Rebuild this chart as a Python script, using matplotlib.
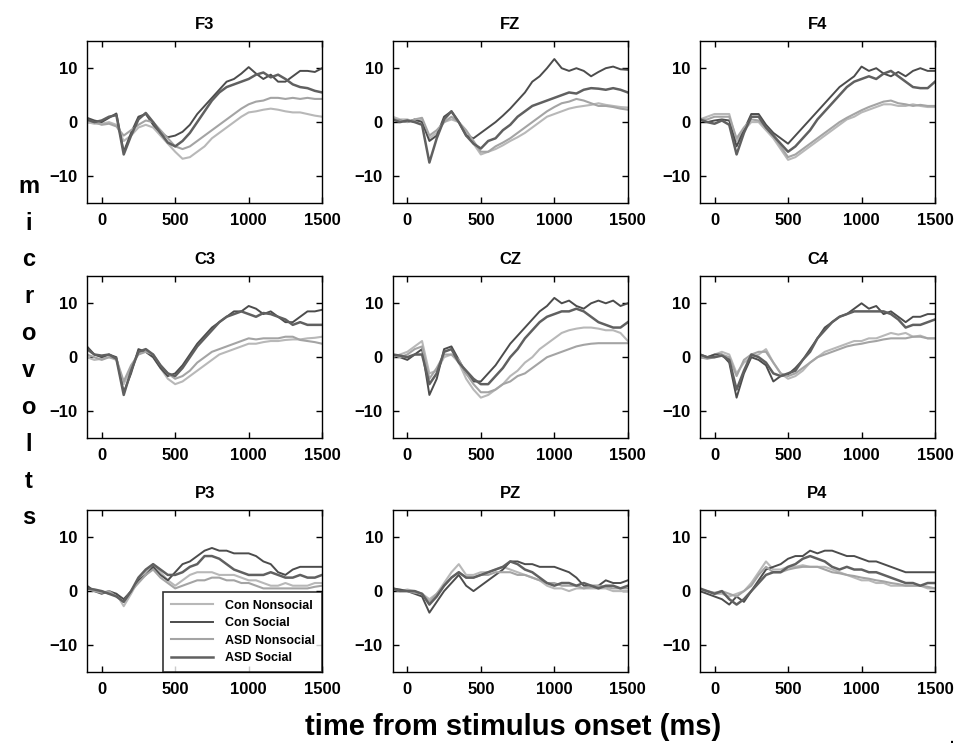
import matplotlib
matplotlib.use("Agg")
import matplotlib.pyplot as plt

plt.rcParams['font.family'] = ['Liberation Sans', 'DejaVu Sans']
plt.rcParams['font.weight'] = 'bold'

# time axis (ms)
t = [-100, -50, 0, 50, 100, 150, 200, 250, 300, 350, 400, 450, 500, 550, 600, 650,
     700, 750, 800, 850, 900, 950, 1000, 1050, 1100, 1150, 1200, 1250, 1300, 1350,
     1400, 1450, 1500]

electrodes = ['F3', 'FZ', 'F4', 'C3', 'CZ', 'C4', 'P3', 'PZ', 'P4']
conditions = ['Con Nonsocial', 'Con Social', 'ASD Nonsocial', 'ASD Social']

# F3
f3_con_ns = [0.0, -0.3, -0.3, 0.0, -0.5, -3.5, -2.5, -1.0, -0.5, -1.0, -2.5, -4.0, -5.5, -6.8, -6.5, -5.5, -4.5, -3.0, -2.0, -1.0, 0.0, 1.0, 1.8, 2.0, 2.3, 2.5, 2.3, 2.0, 1.8, 1.8, 1.5, 1.2, 1.0]
f3_con_s = [0.8, 0.3, 0.0, 0.8, 1.6, -5.5, -2.0, 1.0, 1.5, -0.5, -2.0, -2.8, -2.5, -1.8, -0.5, 1.5, 3.0, 4.5, 6.0, 7.5, 8.0, 9.0, 10.2, 9.0, 8.0, 8.8, 7.5, 7.5, 8.5, 9.5, 9.5, 9.3, 10.0]
f3_asd_ns = [0.3, 0.0, -0.5, -0.3, -0.8, -2.5, -1.5, -0.5, 0.3, 0.0, -1.5, -3.0, -4.5, -5.0, -4.5, -3.5, -2.5, -1.5, -0.5, 0.5, 1.5, 2.5, 3.3, 3.8, 4.0, 4.5, 4.5, 4.3, 4.5, 4.3, 4.5, 4.3, 4.3]
f3_asd_s = [0.5, 0.0, 0.3, 1.0, 1.3, -6.0, -2.5, 0.5, 1.7, 0.0, -2.0, -3.8, -4.5, -3.5, -2.0, 0.0, 2.0, 4.0, 5.5, 6.5, 7.0, 7.5, 8.0, 8.8, 9.2, 8.3, 8.8, 8.0, 7.0, 6.5, 6.3, 5.8, 5.5]

# FZ
fz_con_ns = [1.0, 0.5, 0.5, 0.0, 0.5, -3.0, -2.0, 0.0, 0.5, 0.0, -2.0, -4.0, -6.0, -5.5, -5.0, -4.3, -3.5, -2.8, -2.0, -1.0, 0.0, 1.0, 1.5, 2.0, 2.5, 2.8, 3.0, 3.2, 3.5, 3.2, 3.0, 2.8, 2.7]
fz_con_s = [0.5, 0.3, 0.0, 0.5, 0.0, -3.5, -2.5, 1.0, 2.0, 0.0, -2.5, -3.0, -2.0, -1.0, 0.0, 1.2, 2.5, 4.0, 5.5, 7.5, 8.5, 10.0, 11.7, 10.0, 9.5, 10.0, 9.5, 8.5, 9.3, 10.0, 10.3, 9.8, 9.7]
fz_asd_ns = [0.5, 0.3, 0.0, 0.5, 0.8, -2.5, -1.5, 0.0, 1.0, 0.0, -1.5, -3.5, -5.5, -5.5, -4.5, -3.8, -3.0, -2.0, -1.0, 0.0, 1.0, 2.0, 2.8, 3.5, 3.8, 4.3, 4.0, 3.5, 3.0, 3.0, 2.8, 2.5, 2.3]
fz_asd_s = [0.5, 0.0, 0.3, 0.0, -0.5, -7.5, -3.0, 0.5, 2.0, 0.0, -2.5, -4.0, -4.9, -3.5, -3.0, -1.5, -0.5, 1.0, 2.0, 3.0, 3.5, 4.0, 4.5, 5.0, 5.5, 5.3, 6.0, 6.3, 6.2, 6.0, 6.3, 6.0, 5.5]

# F4
f4_con_ns = [0.5, 1.0, 1.5, 1.5, 1.5, -3.5, -1.5, 0.0, 0.0, -1.5, -3.0, -5.0, -7.0, -6.5, -5.5, -4.5, -3.5, -2.5, -1.5, -0.5, 0.5, 1.0, 1.8, 2.3, 2.8, 3.3, 3.3, 3.0, 3.0, 3.3, 3.0, 2.8, 2.8]
f4_con_s = [0.5, 0.0, 0.3, 0.5, 0.3, -4.5, -1.5, 1.5, 1.5, -0.5, -2.0, -3.0, -4.0, -2.5, -1.0, 0.5, 2.0, 3.5, 5.0, 6.5, 7.5, 8.5, 10.3, 9.5, 10.0, 9.0, 8.5, 9.3, 8.5, 9.5, 10.0, 9.5, 9.5]
f4_asd_ns = [0.5, 0.5, 1.0, 1.0, 1.0, -3.0, -1.0, 0.5, 0.3, -1.0, -2.5, -4.5, -6.5, -6.0, -5.0, -4.0, -3.0, -2.0, -1.0, 0.0, 0.8, 1.5, 2.2, 2.8, 3.3, 3.8, 4.0, 3.5, 3.3, 3.0, 3.2, 3.0, 3.0]
f4_asd_s = [0.5, 0.0, -0.3, 0.3, -0.5, -6.0, -2.0, 1.0, 1.0, -1.0, -2.5, -4.0, -5.5, -4.5, -3.0, -1.5, 0.5, 2.0, 3.5, 5.0, 6.5, 7.5, 8.0, 8.5, 8.0, 9.0, 9.5, 8.5, 7.5, 6.5, 6.3, 6.3, 7.5]

# C3
c3_con_ns = [0.0, -0.5, -0.3, 0.0, -0.5, -5.0, -2.0, 1.0, 1.0, 0.0, -2.0, -4.0, -5.0, -4.5, -3.5, -2.5, -1.5, -0.5, 0.5, 1.0, 1.5, 2.0, 2.5, 2.5, 2.8, 3.0, 3.0, 3.2, 3.3, 3.3, 3.5, 3.6, 3.8]
c3_con_s = [2.0, 0.5, 0.0, 0.5, 0.0, -6.5, -3.0, 1.5, 1.0, 0.0, -2.0, -3.5, -3.0, -1.5, 0.5, 2.5, 4.0, 5.5, 6.5, 7.5, 8.5, 8.5, 9.5, 9.0, 8.0, 8.5, 7.5, 6.5, 6.5, 7.5, 8.5, 8.5, 8.8]
c3_asd_ns = [0.5, 0.0, -0.5, 0.0, -0.3, -4.5, -1.5, 0.5, 1.0, 0.5, -1.5, -3.0, -4.0, -3.5, -2.5, -1.0, 0.0, 1.0, 1.5, 2.0, 2.5, 3.0, 3.5, 3.3, 3.5, 3.5, 3.5, 3.8, 3.8, 3.2, 3.0, 2.8, 2.5]
c3_asd_s = [1.5, 0.5, 0.3, 0.5, -0.3, -7.0, -2.5, 1.0, 1.5, 0.5, -1.5, -3.0, -3.5, -2.0, 0.0, 2.0, 3.5, 5.0, 6.5, 7.5, 8.0, 8.5, 8.0, 7.5, 8.2, 8.0, 7.5, 7.0, 6.0, 6.5, 6.0, 6.0, 6.0]

# CZ
cz_con_ns = [0.0, 0.5, 1.0, 2.0, 3.0, -3.0, -2.5, 0.0, 0.5, -1.0, -4.0, -6.0, -7.5, -7.0, -6.0, -5.0, -3.5, -2.5, -1.0, 0.0, 1.5, 2.5, 3.5, 4.5, 5.0, 5.3, 5.5, 5.5, 5.3, 5.0, 5.0, 4.5, 3.0]
cz_con_s = [0.5, 0.0, -0.5, 0.5, 1.5, -7.0, -4.0, 1.5, 2.0, -0.5, -3.0, -4.5, -4.5, -3.0, -1.5, 0.5, 2.5, 4.0, 5.5, 7.0, 8.5, 9.5, 11.0, 10.0, 10.5, 9.5, 9.0, 10.0, 10.5, 10.0, 10.5, 9.5, 10.0]
cz_asd_ns = [0.5, 0.0, 0.5, 1.5, 2.0, -4.0, -2.0, 0.5, 0.5, -0.5, -3.0, -5.0, -6.5, -6.5, -6.0, -5.0, -4.5, -3.5, -3.0, -2.0, -1.0, 0.0, 0.5, 1.0, 1.5, 2.0, 2.3, 2.5, 2.6, 2.6, 2.6, 2.6, 2.6]
cz_asd_s = [0.5, 0.3, 0.0, 0.5, 0.5, -5.0, -3.0, 1.0, 1.5, -1.0, -2.5, -4.0, -5.0, -5.0, -3.5, -2.0, 0.0, 1.5, 3.5, 5.0, 6.5, 7.5, 8.0, 8.5, 8.5, 9.0, 8.5, 7.5, 6.5, 6.0, 5.5, 5.5, 6.5]

# C4
c4_con_ns = [0.5, 0.0, 0.5, 1.0, 0.5, -3.0, -1.0, 0.0, 0.5, 1.5, -1.0, -3.0, -4.0, -3.5, -2.5, -1.0, 0.0, 1.0, 1.5, 2.0, 2.5, 3.0, 3.0, 3.5, 3.5, 4.0, 4.5, 4.2, 4.5, 3.8, 4.0, 3.5, 3.5]
c4_con_s = [0.5, 0.0, 0.5, 0.5, -1.0, -7.5, -3.0, 0.0, -0.5, -1.5, -4.5, -3.5, -3.2, -2.0, -0.5, 1.5, 3.5, 5.5, 6.5, 7.5, 8.0, 9.0, 10.0, 9.0, 9.5, 8.0, 8.5, 7.5, 6.5, 7.5, 7.5, 8.0, 8.0]
c4_asd_ns = [0.0, -0.3, 0.0, 0.5, 0.0, -3.5, -0.5, 0.5, 1.0, 1.0, -1.0, -3.0, -3.5, -3.0, -2.0, -1.0, 0.0, 0.5, 1.0, 1.5, 2.0, 2.3, 2.5, 2.8, 3.0, 3.3, 3.5, 3.5, 3.5, 3.8, 3.8, 3.5, 3.5]
c4_asd_s = [0.5, 0.0, 0.0, 0.3, -0.5, -6.0, -2.5, 0.5, 0.0, -1.0, -3.0, -3.5, -3.0, -2.5, -0.5, 1.0, 3.5, 5.0, 6.5, 7.5, 8.0, 8.5, 8.5, 8.5, 8.5, 8.5, 8.0, 7.0, 5.5, 6.0, 6.0, 6.5, 7.0]

# P3
p3_con_ns = [0.5, 0.0, 0.0, -0.5, -0.5, -2.8, -0.5, 2.0, 3.5, 5.0, 3.5, 2.0, 1.0, 2.0, 3.0, 3.5, 3.5, 3.5, 3.0, 3.0, 3.0, 2.5, 2.0, 2.0, 1.5, 1.0, 1.0, 1.5, 1.0, 1.0, 1.0, 1.5, 1.5]
p3_con_s = [1.0, 0.0, -0.5, 0.0, -0.5, -1.5, 0.0, 2.0, 3.0, 4.5, 3.0, 2.0, 3.5, 5.0, 5.5, 6.5, 7.5, 8.0, 7.5, 7.5, 7.0, 7.0, 7.0, 6.5, 5.5, 5.0, 3.5, 3.0, 4.0, 4.5, 4.5, 4.5, 4.5]
p3_asd_ns = [0.5, 0.0, -0.3, 0.0, -1.0, -2.0, 0.0, 1.5, 3.0, 4.0, 2.5, 1.5, 0.5, 1.0, 1.5, 2.0, 2.0, 2.5, 2.5, 2.0, 2.0, 1.5, 1.5, 1.0, 0.5, 0.5, 0.5, 0.5, 0.5, 0.5, 0.5, 0.8, 1.0]
p3_asd_s = [0.5, 0.3, 0.0, -0.5, -1.0, -2.0, 0.0, 2.5, 4.0, 5.0, 4.0, 3.0, 3.0, 3.5, 4.5, 5.0, 6.5, 6.5, 6.0, 5.0, 4.0, 3.5, 3.0, 3.0, 3.0, 3.5, 3.0, 2.5, 2.5, 3.0, 2.5, 2.5, 3.0]

# PZ
pz_con_ns = [0.5, 0.0, 0.3, 0.0, -0.5, -1.5, -0.5, 1.5, 3.5, 5.0, 3.0, 3.0, 3.5, 3.5, 4.0, 4.5, 4.0, 3.5, 3.0, 2.5, 2.0, 1.0, 0.5, 0.5, 0.0, 0.5, 0.5, 0.5, 0.5, 0.5, 0.0, 0.0, 0.0]
pz_con_s = [0.5, 0.3, 0.0, -0.5, -1.0, -4.0, -2.0, 0.0, 1.5, 3.0, 1.0, 0.0, 1.0, 2.0, 3.0, 4.0, 5.5, 5.5, 5.0, 5.0, 4.5, 4.5, 4.5, 4.0, 3.5, 2.5, 1.0, 1.0, 1.0, 2.0, 1.5, 1.5, 2.0]
pz_asd_ns = [0.3, 0.0, 0.0, -0.3, -0.5, -2.0, -0.5, 1.0, 2.5, 3.5, 2.5, 2.5, 3.0, 3.0, 3.5, 3.5, 3.5, 3.0, 3.0, 2.5, 2.0, 1.5, 1.5, 1.0, 1.0, 1.0, 0.5, 0.8, 1.0, 0.8, 0.5, 0.5, 0.5]
pz_asd_s = [0.5, 0.0, 0.0, 0.0, -0.5, -2.5, -1.0, 1.0, 2.5, 3.5, 2.5, 2.5, 3.0, 3.5, 4.0, 4.5, 5.5, 5.0, 4.0, 3.5, 2.5, 1.5, 1.0, 1.5, 1.5, 1.0, 1.5, 1.0, 0.5, 1.0, 1.0, 0.5, 1.0]

# P4
p4_con_ns = [0.0, 0.0, -0.5, -0.5, -1.0, -0.5, 0.0, 1.5, 3.5, 5.5, 4.0, 4.0, 4.5, 4.5, 4.8, 4.5, 4.5, 4.5, 4.0, 3.5, 3.0, 2.5, 2.0, 2.0, 1.5, 1.5, 1.0, 1.0, 1.0, 1.0, 1.0, 0.5, 0.5]
p4_con_s = [0.0, -0.5, -1.0, -1.5, -2.5, -1.0, -2.0, 0.0, 2.0, 4.0, 4.5, 5.0, 6.0, 6.5, 6.5, 7.5, 7.0, 7.5, 7.5, 7.0, 6.5, 6.5, 6.0, 5.5, 5.5, 5.0, 4.5, 4.0, 3.5, 3.5, 3.5, 3.5, 3.5]
p4_asd_ns = [0.3, 0.0, -0.3, 0.0, -0.5, -1.0, 0.0, 1.0, 3.0, 4.5, 3.5, 3.5, 4.0, 4.3, 4.5, 4.5, 4.5, 4.0, 3.5, 3.3, 3.0, 2.8, 2.5, 2.3, 2.0, 1.8, 1.5, 1.3, 1.0, 1.0, 1.0, 0.8, 0.5]
p4_asd_s = [0.5, 0.0, -0.5, 0.0, -1.5, -2.5, -1.5, 0.0, 1.5, 3.0, 3.5, 3.5, 4.5, 5.0, 6.0, 6.5, 6.0, 5.5, 4.5, 4.0, 4.5, 4.0, 4.0, 3.5, 3.5, 3.0, 2.5, 2.0, 1.5, 1.5, 1.0, 1.5, 1.5]

data = {
    'F3': [f3_con_ns, f3_con_s, f3_asd_ns, f3_asd_s],
    'FZ': [fz_con_ns, fz_con_s, fz_asd_ns, fz_asd_s],
    'F4': [f4_con_ns, f4_con_s, f4_asd_ns, f4_asd_s],
    'C3': [c3_con_ns, c3_con_s, c3_asd_ns, c3_asd_s],
    'CZ': [cz_con_ns, cz_con_s, cz_asd_ns, cz_asd_s],
    'C4': [c4_con_ns, c4_con_s, c4_asd_ns, c4_asd_s],
    'P3': [p3_con_ns, p3_con_s, p3_asd_ns, p3_asd_s],
    'PZ': [pz_con_ns, pz_con_s, pz_asd_ns, pz_asd_s],
    'P4': [p4_con_ns, p4_con_s, p4_asd_ns, p4_asd_s],
}

colors = ['#b8b8b8', '#4c4c4c', '#a4a4a4', '#606060']
widths = [1.5, 1.4, 1.5, 1.8]

fig = plt.figure(figsize=(9.6, 7.54), dpi=100)

lefts = [0.0906, 0.409, 0.729]
bottoms = [0.7308, 0.419, 0.1088]
w, h = 0.245, 0.2145

for i, name in enumerate(electrodes):
    r, c = divmod(i, 3)
    ax = fig.add_axes([lefts[c], bottoms[r], w, h])
    for k, series in enumerate(data[name]):
        ax.plot(t, series, color=colors[k], lw=widths[k], label=conditions[k])
    ax.set_xlim(-100, 1500)
    ax.set_ylim(-15, 15)
    ax.set_xticks([0, 500, 1000, 1500])
    ax.set_yticks([-10, 0, 10])
    ax.tick_params(direction='in', top=True, right=True, labelsize=12,
                   length=4, width=1, pad=7)
    for lab in ax.get_xticklabels() + ax.get_yticklabels():
        lab.set_fontweight('bold')
    for sp in ax.spines.values():
        sp.set_linewidth(1.0)
    ax.set_title(name, fontsize=12, fontweight='bold', pad=9)
    if name == 'P3':
        leg = ax.legend(loc='lower right', fontsize=9, frameon=True,
                        fancybox=False, borderaxespad=0, handlelength=3.4,
                        labelspacing=0.45, borderpad=0.6, handletextpad=0.9)
        leg.get_frame().set_edgecolor('black')
        leg.get_frame().set_linewidth(1.2)
        for txt in leg.get_texts():
            txt.set_fontweight('bold')

fig.text(0.03, 0.533, '\n'.join('microvolts'), ha='center', va='center',
         fontsize=17, fontweight='bold', linespacing=1.77)
fig.text(0.534, 0.036, 'time from stimulus onset (ms)', ha='center', va='center',
         fontsize=21, fontweight='bold')
fig.text(0.992, 0.02, '.', ha='center', va='center', fontsize=10)

fig.savefig('out.png', dpi=100)
